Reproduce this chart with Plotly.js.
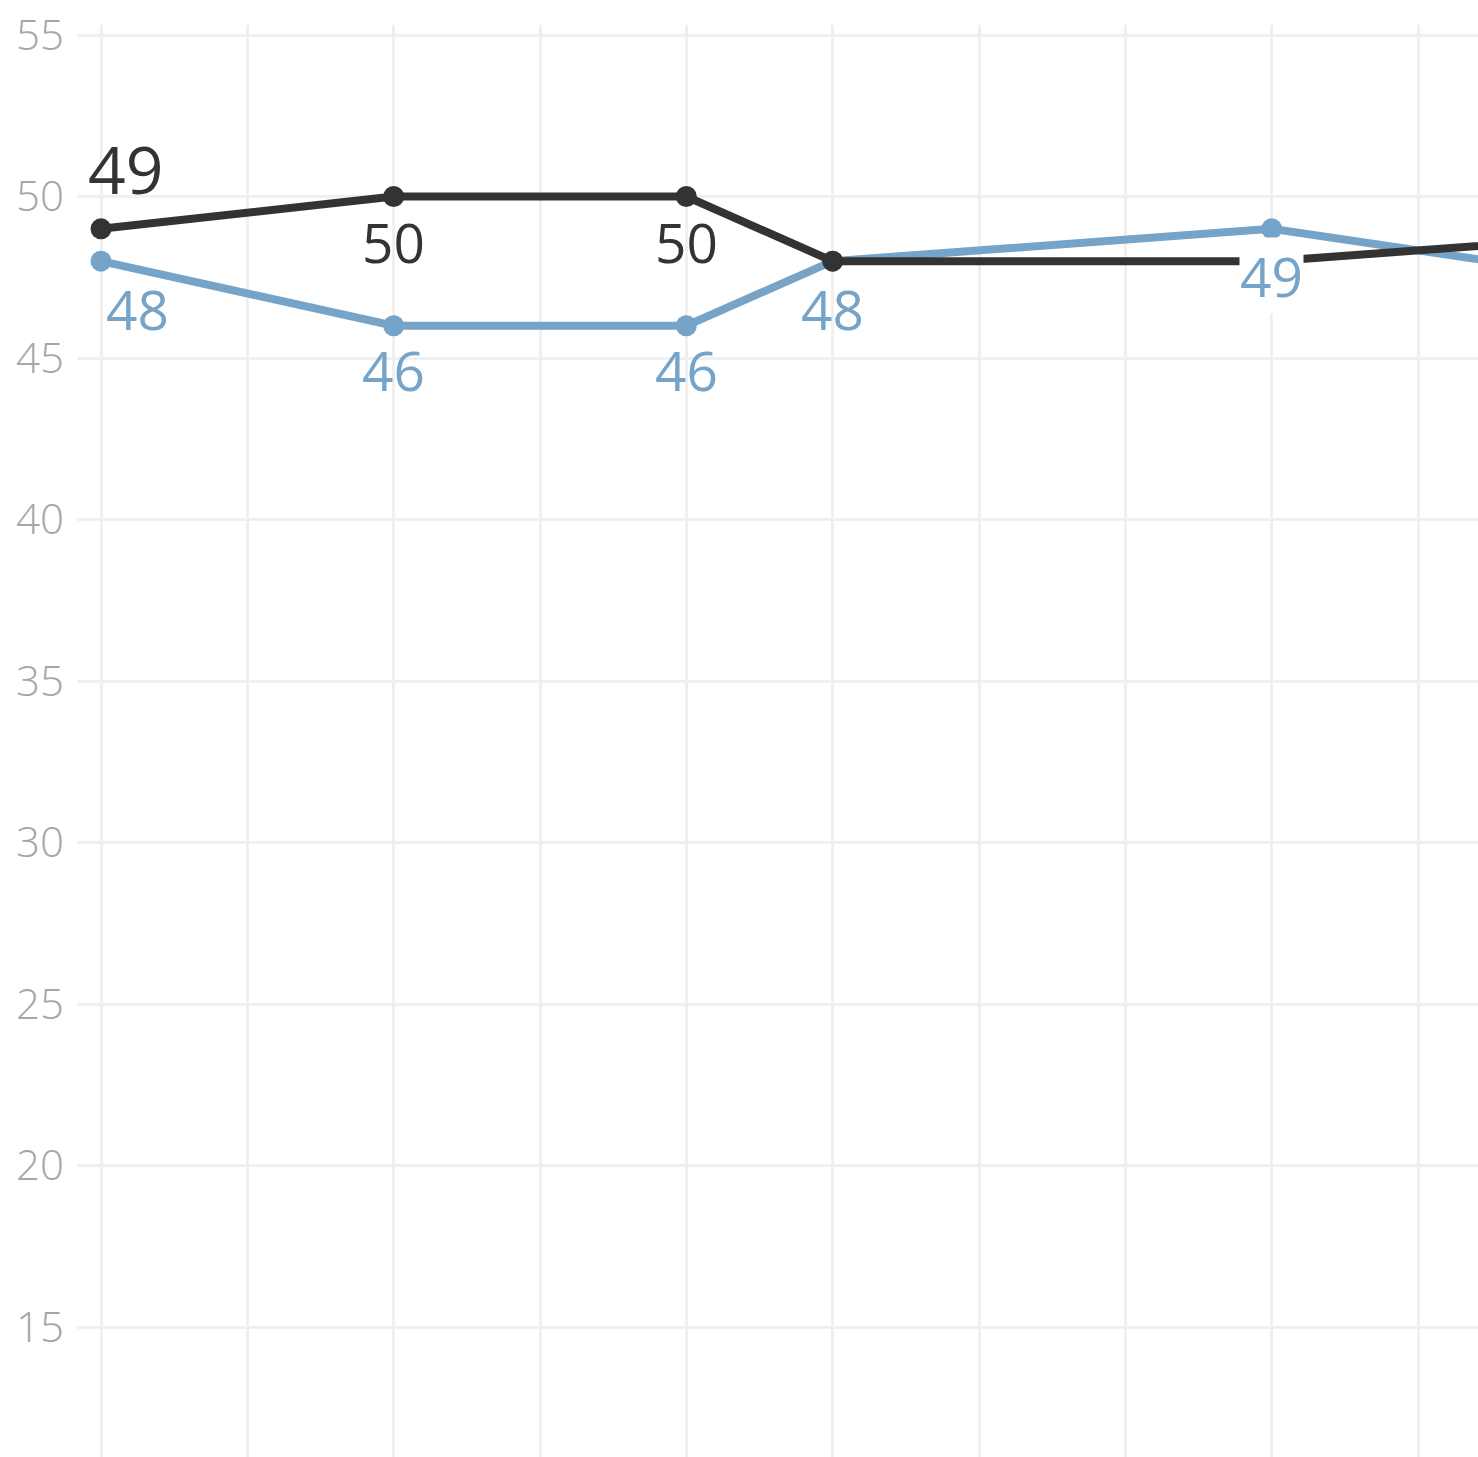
<!DOCTYPE html>
<html>
<head>
<meta charset="utf-8">
<script src="https://cdn.plot.ly/plotly-3.0.1.min.js"></script>
<style>
  html, body { margin: 0; padding: 0; background: #fff; overflow: hidden; }
  #chart { width: 1478px; height: 1457px; }
</style>
</head>
<body>
<div id="chart"></div>
<script>
// ---- data ----
const periods = [0, 2, 4, 5, 8, 11];
const blackValues = [49, 50, 50, 48, 48, 49];
const blueValues  = [48, 46, 46, 48, 49, 47];
// which points carry a value label (true = labelled)
const blackLabelled = [true, true, true, false, false, false];
const blueLabelled  = [true, true, true, true, true, false];

// ---- styles ----
const BLACK = '#333333';
const BLUE = '#76a4c8';
const FONT = '"Open Sans", "Liberation Sans", sans-serif';

// label placement (pixels) per point, style only
const blackLabelShift = [{x: 24, y: 61, size: 66}, {x: 0, y: -45, size: 55}, {x: 0, y: -45, size: 55}, null, null, null];
const blueLabelShift  = [{x: 36, y: -47, size: 55}, {x: 0, y: -44, size: 55}, {x: 0, y: -44, size: 55}, {x: 0, y: -47, size: 55}, {x: 0, y: -47, size: 55, bg: true}, null];

const traces = [
  {
    x: periods, y: blueValues, type: 'scatter', mode: 'lines+markers',
    line: {color: BLUE, width: 8}, marker: {color: BLUE, size: 21},
    hoverinfo: 'skip', cliponaxis: false
  },
  {
    x: periods, y: blackValues, type: 'scatter', mode: 'lines+markers',
    line: {color: BLACK, width: 8}, marker: {color: BLACK, size: 21},
    hoverinfo: 'skip', cliponaxis: false
  }
];

const annotations = [];
function addLabels(values, flags, shifts, color) {
  values.forEach((v, i) => {
    if (!flags[i] || !shifts[i]) return;
    const s = shifts[i];
    annotations.push({
      x: periods[i], y: v, xref: 'x', yref: 'y',
      text: String(v), showarrow: false,
      xshift: s.x, yshift: s.y,
      font: {family: FONT, size: s.size, color: color},
      bgcolor: s.bg ? '#ffffff' : 'rgba(0,0,0,0)',
      borderpad: 0
    });
  });
}
addLabels(blackValues, blackLabelled, blackLabelShift, BLACK);
addLabels(blueValues, blueLabelled, blueLabelShift, BLUE);

const layout = {
  width: 1478, height: 1457,
  margin: {l: 77, r: 0, t: 25, b: 0, pad: 0},
  paper_bgcolor: '#ffffff', plot_bgcolor: '#ffffff',
  showlegend: false,
  font: {family: FONT},
  xaxis: {
    range: [-0.164, 9.41], tick0: 0, dtick: 1,
    showgrid: true, gridcolor: '#f0f0f0', gridwidth: 3,
    zeroline: false, showline: false, showticklabels: false, ticks: ''
  },
  yaxis: {
    range: [10.98, 55.31], tick0: 0, dtick: 5,
    showgrid: true, gridcolor: '#f0f0f0', gridwidth: 3,
    zeroline: false, showline: false, ticks: '',
    ticklabelstandoff: 12,
    tickfont: {family: FONT, size: 42, color: '#a6a6a6', weight: 300}
  },
  annotations: annotations
};

Plotly.newPlot('chart', traces, layout, {staticPlot: true, displayModeBar: false});
</script>
</body>
</html>
